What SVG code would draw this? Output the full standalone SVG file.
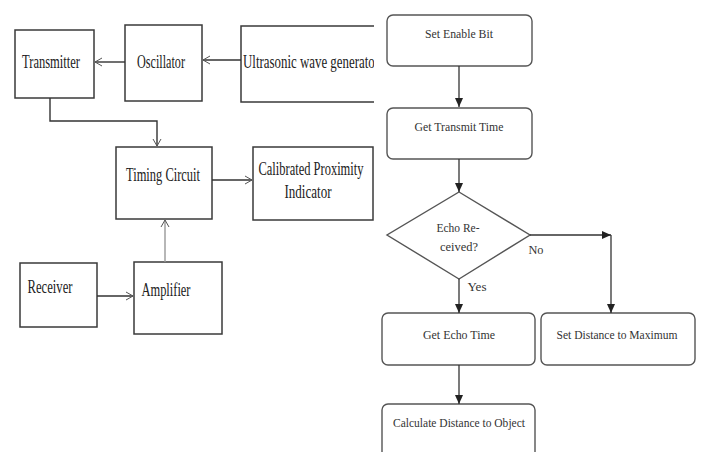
<svg xmlns="http://www.w3.org/2000/svg" width="702" height="452" viewBox="0 0 702 452">
<style>
.blk{fill:#fff;stroke:#3a3a3a;stroke-width:1.5}
.fc{fill:#fff;stroke:#555;stroke-width:1.4}
.lt{font-family:"Liberation Serif",serif;font-size:18px;fill:#222;text-anchor:middle}
.ft{font-family:"Liberation Serif",serif;font-size:13px;fill:#333;text-anchor:middle}
.ln{fill:none;stroke:#333;stroke-width:1.4}
.fl{fill:none;stroke:#333;stroke-width:1.3}
</style>
<defs>
<marker id="open" markerWidth="10" markerHeight="10" refX="9" refY="5" orient="auto" markerUnits="userSpaceOnUse">
<path d="M2,1 L9,5 L2,9" fill="none" stroke="#555" stroke-width="1"/>
</marker>
<marker id="tri" markerWidth="10" markerHeight="10" refX="9" refY="5" orient="auto" markerUnits="userSpaceOnUse">
<path d="M0,1 L9,5 L0,9 Z" fill="#222"/>
</marker>
<clipPath id="clipL"><rect x="0" y="0" width="374" height="452"/></clipPath>
</defs>
<rect width="702" height="452" fill="#fff"/>

<g id="transmitter"><rect class="blk" x="15" y="30" width="79" height="68"/><text class="lt" x="51" y="68" textLength="58" lengthAdjust="spacingAndGlyphs">Transmitter</text></g>
<g id="oscillator"><rect class="blk" x="125" y="25" width="77" height="76"/><text class="lt" x="161" y="68" textLength="48" lengthAdjust="spacingAndGlyphs">Oscillator</text></g>
<g id="generator" clip-path="url(#clipL)"><path class="blk" d="M374,26 H241 V102 H374"/><text x="243" y="68" font-family="Liberation Serif,serif" font-size="18" fill="#222" textLength="136" lengthAdjust="spacingAndGlyphs">Ultrasonic wave generator</text></g>
<g id="timing"><rect class="blk" x="116" y="147" width="96" height="72"/><text class="lt" x="163" y="181" textLength="74" lengthAdjust="spacingAndGlyphs">Timing Circuit</text></g>
<g id="indicator"><rect class="blk" x="253" y="147" width="120" height="73"/><text class="lt" x="311" y="175" textLength="105" lengthAdjust="spacingAndGlyphs">Calibrated Proximity</text><text class="lt" x="308" y="198" textLength="47" lengthAdjust="spacingAndGlyphs">Indicator</text></g>
<g id="receiver"><rect class="blk" x="20" y="263" width="77" height="64"/><text class="lt" x="50" y="293" textLength="45" lengthAdjust="spacingAndGlyphs">Receiver</text></g>
<g id="amplifier"><rect class="blk" x="134" y="262" width="88" height="72"/><text class="lt" x="166" y="296" textLength="49" lengthAdjust="spacingAndGlyphs">Amplifier</text></g>

<g id="set-enable"><rect class="fc" x="387" y="15" width="145" height="51" rx="6"/><text class="ft" x="459" y="38" textLength="68" lengthAdjust="spacingAndGlyphs">Set Enable Bit</text></g>
<g id="get-transmit"><rect class="fc" x="387" y="108" width="145" height="51" rx="6"/><text class="ft" x="459" y="131" textLength="89" lengthAdjust="spacingAndGlyphs">Get Transmit Time</text></g>
<g id="echo-received"><path class="fc" d="M459,192 L530,235 L459,279 L387,235 Z"/><text class="ft" x="458" y="232" textLength="43" lengthAdjust="spacingAndGlyphs">Echo Re-</text><text class="ft" x="459" y="251" textLength="38" lengthAdjust="spacingAndGlyphs">ceived?</text></g>
<g id="get-echo"><rect class="fc" x="382" y="313" width="153" height="52" rx="6"/><text class="ft" x="459" y="339" textLength="72" lengthAdjust="spacingAndGlyphs">Get Echo Time</text></g>
<g id="set-max"><rect class="fc" x="541" y="313" width="154" height="52" rx="6"/><text class="ft" x="617" y="339" textLength="121" lengthAdjust="spacingAndGlyphs">Set Distance to Maximum</text></g>
<g id="calculate"><rect class="fc" x="382" y="404" width="153" height="60" rx="6"/><text class="ft" x="459" y="427" textLength="132" lengthAdjust="spacingAndGlyphs">Calculate Distance to Object</text></g>

<g id="connectors">
<line class="ln" x1="125" y1="62" x2="95" y2="62" marker-end="url(#open)"/>
<line class="ln" x1="241" y1="60" x2="203" y2="60" marker-end="url(#open)"/>
<path class="ln" d="M50,98 V121 H157 V146" marker-end="url(#open)"/>
<line class="ln" x1="212" y1="180" x2="252" y2="180" marker-end="url(#open)"/>
<line class="ln" x1="97" y1="296" x2="133" y2="296" marker-end="url(#open)"/>
<line x1="165" y1="262" x2="165" y2="220" stroke="#999" stroke-width="1.4" marker-end="url(#open)"/>
<line class="fl" x1="459" y1="66" x2="459" y2="107" marker-end="url(#tri)"/>
<line class="fl" x1="459" y1="159" x2="459" y2="192" marker-end="url(#tri)"/>
<line class="fl" x1="530" y1="235" x2="611" y2="235" marker-end="url(#tri)"/>
<line class="fl" x1="611" y1="235" x2="611" y2="313" marker-end="url(#tri)"/>
<line class="fl" x1="459" y1="279" x2="459" y2="313" marker-end="url(#tri)"/>
<line class="fl" x1="459" y1="365" x2="459" y2="404" marker-end="url(#tri)"/>
<text class="ft" x="536" y="254" textLength="15" lengthAdjust="spacingAndGlyphs">No</text>
<text class="ft" x="477" y="291" textLength="19" lengthAdjust="spacingAndGlyphs">Yes</text>
</g>
</svg>
